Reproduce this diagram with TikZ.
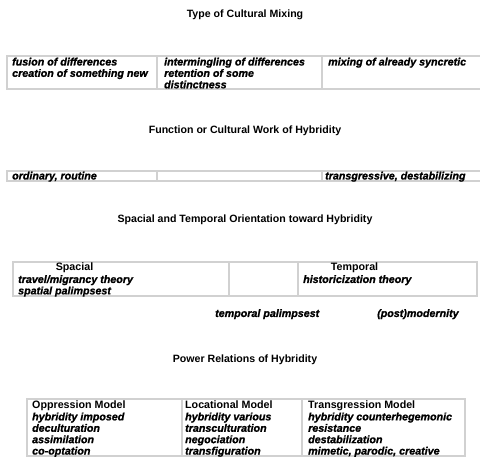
\documentclass[tikz,border=0pt]{standalone}
\usepackage{fontspec}
\setmainfont{Liberation Sans}[BoldItalicFeatures={FakeBold=1.2}]
\begin{document}
\begin{tikzpicture}[x=1pt,y=-1pt,
  title/.style={font=\fontsize{10.6}{12}\selectfont\bfseries, inner sep=0, anchor=center},
  cell/.style={font=\fontsize{10.7}{11.4}\selectfont\bfseries\itshape, align=left, anchor=north west, inner sep=0},
  head/.style={font=\fontsize{10.7}{11.4}\selectfont\bfseries, inner sep=0, anchor=north},
  rule/.style={draw=black!18, line width=1.2pt}]
\useasboundingbox (0,0) rectangle (480,458);
% titles
\node[title] (t1) at (245,15) {Type of Cultural Mixing};
\node[title] (t2) at (245,131) {Function or Cultural Work of Hybridity};
\node[title] (t3) at (245,220) {Spacial and Temporal Orientation toward Hybridity};
\node[title] (t4) at (245,360) {Power Relations of Hybridity};
% table 1
\draw[rule] (480,56) -- (7,56) -- (7,89) -- (480,89);
\draw[rule] (157,56) -- (157,89) (322,56) -- (322,89);
\node[cell] (c11) at (12,57.5) {fusion of differences\\creation of something new};
\node[cell] (c12) at (164,57.5) {intermingling of differences\\retention of some\\distinctness};
\node[cell] (c13) at (328,57.5) {mixing of already syncretic};
% table 2
\draw[rule] (480,171) -- (7,171) -- (7,181) -- (480,181);
\draw[rule] (157,171) -- (157,181) (322,171) -- (322,181);
\node[cell] (c21) at (12,171.5) {ordinary, routine};
\node[cell] (c23) at (325,171.5) {transgressive, destabilizing};
% table 3
\draw[rule] (13,262) rectangle (477,296);
\draw[rule] (229,262) -- (229,296) (298,262) -- (298,296);
\node[head] (h31) at (74.5,262.5) {Spacial};
\node[cell] (c31) at (18,275) {travel/migrancy theory\\spatial palimpsest};
\node[head] (h33) at (354.5,262.5) {Temporal};
\node[cell] (c33) at (303,275) {historicization theory};
\node[cell] (b1) at (215,309) {temporal palimpsest};
\node[cell] (b2) at (377,309) {(post)modernity};
% table 4
\draw[rule] (27,399) rectangle (465,456);
\draw[rule] (182,399) -- (182,456) (302,399) -- (302,456);
\node[cell] (c41) at (32,401) {\textup{Oppression Model}\\hybridity imposed\\deculturation\\assimilation\\co-optation};
\node[cell] (c42) at (185,401) {\textup{Locational Model}\\hybridity various\\transculturation\\negociation\\transfiguration};
\node[cell] (c43) at (308,401) {\textup{Transgression Model}\\hybridity counterhegemonic\\resistance\\destabilization\\mimetic, parodic, creative};
\end{tikzpicture}
\end{document}
